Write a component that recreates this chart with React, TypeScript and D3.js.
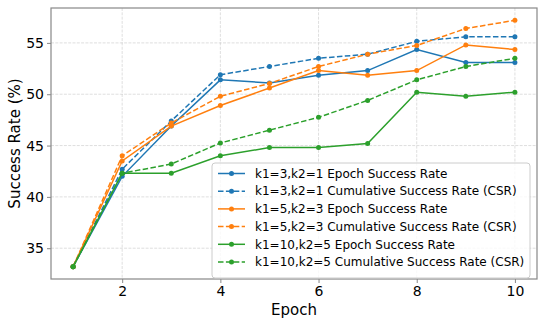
import React, { useRef, useEffect } from "react";
import * as d3 from "d3";

const epochs = [1, 2, 3, 4, 5, 6, 7, 8, 9, 10];
const k3Epoch = [33.2, 42.0, 46.9, 51.4, 51.1, 51.85, 52.3, 54.35, 53.1, 53.1];
const k3Csr = [33.2, 42.7, 47.4, 51.9, 52.7, 53.5, 53.9, 55.15, 55.6, 55.6];
const k5Epoch = [33.2, 43.5, 46.9, 48.9, 50.6, 52.3, 51.85, 52.3, 54.8, 54.35];
const k5Csr = [33.2, 44.0, 47.2, 49.8, 51.05, 52.7, 53.9, 54.75, 56.4, 57.2];
const k10Epoch = [33.2, 42.3, 42.3, 44.0, 44.8, 44.8, 45.2, 50.2, 49.8, 50.2];
const k10Csr = [33.2, 42.3, 43.2, 45.25, 46.5, 47.75, 49.4, 51.4, 52.7, 53.5];

const xTicks = [2, 4, 6, 8, 10];
const yTicks = [35, 40, 45, 50, 55];

const series = [
    { label: "k1=3,k2=1 Epoch Success Rate", values: k3Epoch, color: "#1f77b4", dashed: false },
    { label: "k1=3,k2=1 Cumulative Success Rate (CSR)", values: k3Csr, color: "#1f77b4", dashed: true },
    { label: "k1=5,k2=3 Epoch Success Rate", values: k5Epoch, color: "#ff7f0e", dashed: false },
    { label: "k1=5,k2=3 Cumulative Success Rate (CSR)", values: k5Csr, color: "#ff7f0e", dashed: true },
    { label: "k1=10,k2=5 Epoch Success Rate", values: k10Epoch, color: "#2ca02c", dashed: false },
    { label: "k1=10,k2=5 Cumulative Success Rate (CSR)", values: k10Csr, color: "#2ca02c", dashed: true },
];

const W = 545;
const H = 327;
const FONT = "DejaVu Sans, sans-serif";

const App = () => {
    const svgRef = useRef<SVGSVGElement | null>(null);

    useEffect(() => {
        const svg = d3.select(svgRef.current);
        svg.selectAll("*").remove();

        const margin = { top: 8, right: 8, bottom: 48, left: 51 };
        const innerW = W - margin.left - margin.right;
        const innerH = H - margin.top - margin.bottom;

        const x = d3.scaleLinear().domain([0.55, 10.45]).range([0, innerW]);
        const y = d3.scaleLinear().domain([32.0, 58.4]).range([innerH, 0]);

        const g = svg.append("g")
            .attr("transform", `translate(${margin.left},${margin.top})`);

        // grid
        g.append("g").selectAll("line.gx")
            .data(xTicks)
            .enter().append("line")
            .attr("x1", d => x(d)).attr("x2", d => x(d))
            .attr("y1", 0).attr("y2", innerH)
            .attr("stroke", "#b0b0b0").attr("stroke-opacity", 0.5)
            .attr("stroke-width", 0.8).attr("stroke-dasharray", "3,1.3");
        g.append("g").selectAll("line.gy")
            .data(yTicks)
            .enter().append("line")
            .attr("x1", 0).attr("x2", innerW)
            .attr("y1", d => y(d)).attr("y2", d => y(d))
            .attr("stroke", "#b0b0b0").attr("stroke-opacity", 0.5)
            .attr("stroke-width", 0.8).attr("stroke-dasharray", "3,1.3");

        // axes
        const xAxis = g.append("g")
            .attr("transform", `translate(0,${innerH})`)
            .call(d3.axisBottom(x).tickValues(xTicks).tickSize(4).tickPadding(3).tickFormat(d3.format("d")));
        const yAxis = g.append("g")
            .call(d3.axisLeft(y).tickValues(yTicks).tickSize(4).tickPadding(3).tickFormat(d3.format("d")));
        [xAxis, yAxis].forEach(a => {
            a.select(".domain").remove();
            a.selectAll(".tick line").attr("stroke", "#888");
            a.selectAll(".tick text")
                .attr("font-family", FONT).attr("font-size", 14).attr("fill", "#000");
        });

        // frame
        g.append("rect")
            .attr("x", 0).attr("y", 0).attr("width", innerW).attr("height", innerH)
            .attr("fill", "none").attr("stroke", "#888").attr("stroke-width", 1.2);

        // lines
        const line = d3.line<number>()
            .x((_, i) => x(epochs[i]))
            .y(d => y(d));

        series.forEach(s => {
            g.append("path")
                .datum(s.values)
                .attr("d", line)
                .attr("fill", "none")
                .attr("stroke", s.color)
                .attr("stroke-width", 1.5)
                .attr("stroke-dasharray", s.dashed ? "5.5,2.4" : null);
            g.selectAll(null)
                .data(s.values)
                .enter().append("circle")
                .attr("cx", (_, i) => x(epochs[i]))
                .attr("cy", d => y(d))
                .attr("r", 2.5)
                .attr("fill", s.color);
        });

        // axis labels
        svg.append("text")
            .attr("x", margin.left + innerW / 2).attr("y", 315)
            .attr("text-anchor", "middle")
            .attr("font-family", FONT).attr("font-size", 15)
            .text("Epoch");
        svg.append("text")
            .attr("transform", `translate(20,${margin.top + innerH / 2}) rotate(-90)`)
            .attr("text-anchor", "middle")
            .attr("font-family", FONT).attr("font-size", 15)
            .text("Success Rate (%)");

        // legend
        const lg = svg.append("g").attr("transform", "translate(212,163)");
        lg.append("rect")
            .attr("x", 0).attr("y", 0).attr("width", 318).attr("height", 115)
            .attr("rx", 3)
            .attr("fill", "#fff").attr("fill-opacity", 0.8)
            .attr("stroke", "#ccc").attr("stroke-width", 1);
        series.forEach((s, i) => {
            const cy = 10.5 + i * 17.7;
            lg.append("line")
                .attr("x1", 6).attr("x2", 33)
                .attr("y1", cy).attr("y2", cy)
                .attr("stroke", s.color).attr("stroke-width", 1.5)
                .attr("stroke-dasharray", s.dashed ? "5.5,2.4" : null);
            lg.append("circle")
                .attr("cx", 19.5).attr("cy", cy).attr("r", 2.5).attr("fill", s.color);
            lg.append("text")
                .attr("x", 43).attr("y", cy).attr("dy", "0.35em")
                .attr("font-family", FONT).attr("font-size", 12)
                .text(s.label);
        });
    }, []);

    return (
        <svg
            ref={svgRef}
            width={W}
            height={H}
            style={{ position: "absolute", left: 0, top: 0, background: "#fff" }}
        />
    );
};

export default App;
